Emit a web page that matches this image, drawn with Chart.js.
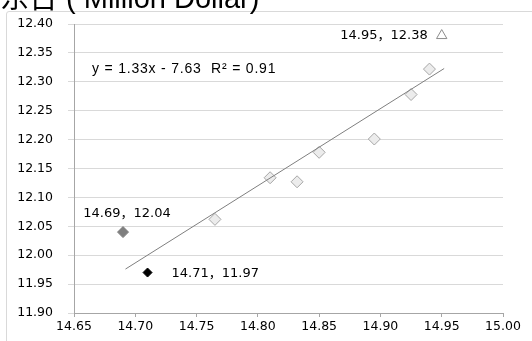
<!DOCTYPE html>
<html>
<head>
<meta charset="utf-8">
<script src="https://cdn.jsdelivr.net/npm/chart.js@4/dist/chart.umd.min.js"></script>
<style>
  html, body { margin: 0; padding: 0; background: #fff; overflow: hidden; }
  #wrap { position: relative; width: 532px; height: 341px; overflow: hidden; }
  #frame { position: absolute; left: 6px; top: 11px; width: 560px; height: 360px;
           border: 1px solid #d9d9d9; border-radius: 3px; box-sizing: border-box; }
  #c { position: absolute; left: 0; top: 0; }
</style>
</head>
<body>
<div id="wrap">
  <div id="frame"></div>
  <canvas id="c" width="532" height="341"></canvas>
</div>
<script>
// Axis title (sits above the frame)
const titleText = '东台 ( Million Dollar)';

// Main series (light diamonds)
const seriesX = [14.765, 14.810, 14.832, 14.850, 14.895, 14.925, 14.940];
const seriesY = [12.062, 12.134, 12.127, 12.178, 12.201, 12.278, 12.322];

// Highlighted points
const grayPoint = [14.69, 12.04];
const blackPoint = [14.71, 11.97];
const trianglePoint = [14.95, 12.38];

// Linear trendline end points and its equation text
const trendX = [14.692, 14.952];
const trendY = [11.976, 12.323];
const equationText = 'y = 1.33x - 7.63  R² = 0.91';

// Axis ranges and tick steps
const xRange = [14.65, 15.00];
const yRange = [11.90, 12.40];
const tickStep = 0.05;

const toPts = (xs, ys) => xs.map((x, i) => ({ x: x, y: ys[i] }));
const pointLabel = p => p[0].toFixed(2) + '，' + p[1].toFixed(2);

const labelFont = '13px "DejaVu Sans", "Noto Sans CJK SC", sans-serif';

const annotate = {
  id: 'annotate',
  beforeDraw(chart) {
    const { ctx } = chart;
    ctx.save();
    ctx.fillStyle = '#000';
    ctx.textAlign = 'left';
    ctx.textBaseline = 'alphabetic';
    ctx.font = '29px "Liberation Sans", Arial, "Noto Sans CJK SC", sans-serif';
    ctx.fillText(titleText, 0, 8);
    ctx.restore();
  },
  afterDatasetsDraw(chart) {
    const { ctx, scales: { x, y }, chartArea } = chart;
    ctx.save();
    ctx.fillStyle = '#000';
    ctx.textBaseline = 'middle';
    ctx.font = labelFont;

    // gray point: label centred above
    ctx.textAlign = 'center';
    ctx.fillText(pointLabel(grayPoint), x.getPixelForValue(grayPoint[0]) + 4, y.getPixelForValue(grayPoint[1]) - 18);

    // black point: label to the right
    ctx.textAlign = 'left';
    ctx.fillText(pointLabel(blackPoint), x.getPixelForValue(blackPoint[0]) + 24, y.getPixelForValue(blackPoint[1]) + 1);

    // triangle point: label to the left
    ctx.textAlign = 'right';
    ctx.fillText(pointLabel(trianglePoint), x.getPixelForValue(trianglePoint[0]) - 14, y.getPixelForValue(trianglePoint[1]));

    // trendline equation
    ctx.textAlign = 'left';
    ctx.font = '14px "Liberation Sans", Arial, sans-serif';
    ctx.letterSpacing = '0.8px';
    ctx.fillText(equationText, chartArea.left + 18, chartArea.top + 45);
    ctx.restore();
  }
};

new Chart(document.getElementById('c'), {
  type: 'scatter',
  data: {
    datasets: [
      {
        type: 'line',
        data: toPts(trendX, trendY),
        borderColor: '#7f7f7f',
        borderWidth: 1,
        pointRadius: 0,
        fill: false
      },
      {
        data: toPts(seriesX, seriesY),
        pointStyle: 'rectRot',
        pointRadius: 6,
        backgroundColor: '#ececec',
        borderColor: '#a6a6a6',
        borderWidth: 1
      },
      {
        data: [{ x: grayPoint[0], y: grayPoint[1] }],
        pointStyle: 'rectRot',
        pointRadius: 5.5,
        backgroundColor: '#7f7f7f',
        borderColor: '#7f7f7f',
        borderWidth: 1
      },
      {
        data: [{ x: blackPoint[0], y: blackPoint[1] }],
        pointStyle: 'rectRot',
        pointRadius: 4.5,
        backgroundColor: '#000',
        borderColor: '#000',
        borderWidth: 1
      },
      {
        data: [{ x: trianglePoint[0], y: trianglePoint[1] }],
        pointStyle: 'triangle',
        pointRadius: 6,
        backgroundColor: '#fff',
        borderColor: '#8c8c8c',
        borderWidth: 1
      }
    ]
  },
  options: {
    responsive: false,
    animation: false,
    events: [],
    layout: { padding: { left: 0, right: 29, top: 24, bottom: 0 } },
    plugins: { legend: { display: false }, tooltip: { enabled: false } },
    scales: {
      x: {
        type: 'linear',
        min: xRange[0],
        max: xRange[1],
        afterFit: s => { s.height = 28; },
        border: { color: '#a6a6a6' },
        grid: { drawOnChartArea: false, tickLength: 4, color: '#a6a6a6' },
        ticks: {
          stepSize: tickStep,
          padding: 2,
          color: '#000',
          font: { family: '"DejaVu Sans", sans-serif', size: 12.5 },
          callback: v => Number(v).toFixed(2),
          maxRotation: 0
        }
      },
      y: {
        type: 'linear',
        min: yRange[0],
        max: yRange[1],
        afterFit: s => { s.width = 74; },
        border: { color: '#a6a6a6' },
        grid: { color: '#d9d9d9', tickLength: 6 },
        ticks: {
          stepSize: tickStep,
          padding: 15,
          color: '#000',
          font: { family: '"DejaVu Sans", sans-serif', size: 12.5 },
          callback: v => Number(v).toFixed(2)
        }
      }
    }
  },
  plugins: [annotate]
});
</script>
</body>
</html>
